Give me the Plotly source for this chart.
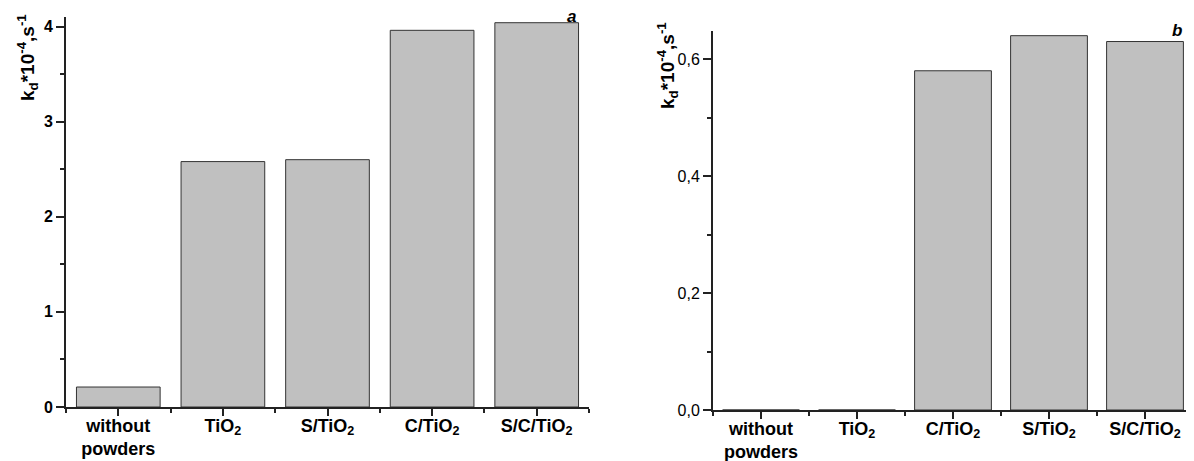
import plotly.graph_objects as go

# ---- data ----
cats_a = ["without<br>powders", "TiO<sub>2</sub>", "S/TiO<sub>2</sub>", "C/TiO<sub>2</sub>", "S/C/TiO<sub>2</sub>"]
vals_a = [0.21, 2.58, 2.60, 3.96, 4.04]

cats_b = ["without<br>powders", "TiO<sub>2</sub>", "C/TiO<sub>2</sub>", "S/TiO<sub>2</sub>", "S/C/TiO<sub>2</sub>"]
vals_b = [0.0, 0.0, 0.58, 0.64, 0.63]

ytick_a = [0, 1, 2, 3, 4]
ytick_b = [0.0, 0.2, 0.4, 0.6]

FONT = "Liberation Sans, Arial, sans-serif"
FILL = "#C0C0C0"
EDGE = "#333333"
AX = "#222222"

# page body has an 8px margin: figure is drawn at (8, 8)
OFF = 8
W, H = 1194 - OFF, 461 - OFF


def px(x):
    return (x - OFF) / W


def py(y):
    return 1 - (y - OFF) / H


fig = go.Figure()
xa = list(range(len(cats_a)))
xb = list(range(len(cats_b)))
fig.add_trace(go.Bar(x=xa, y=vals_a, width=0.8, marker=dict(color=FILL, line=dict(color=EDGE, width=1)),
                     xaxis="x", yaxis="y", showlegend=False))
fig.add_trace(go.Bar(x=xb, y=vals_b, width=0.8, marker=dict(color=FILL, line=dict(color=EDGE, width=1)),
                     xaxis="x2", yaxis="y2", showlegend=False))


def xaxis(dom, cats, anchor):
    return dict(domain=dom, anchor=anchor, range=[-0.5, len(cats) - 0.5], automargin=False,
                tickvals=list(range(len(cats))), ticktext=cats, ticklabelstandoff=-6,
                tickfont=dict(family=FONT, size=18, color="black", weight="bold"),
                showline=True, linecolor=AX, linewidth=2, showgrid=False, zeroline=False,
                ticks="outside", ticklen=7, tickwidth=1.5, tickcolor=AX,
                minor=dict(tick0=-0.5, dtick=1, ticks="outside", ticklen=4, tickwidth=1.5, tickcolor=AX))


def yaxis(dom, rng, tv, anchor, bold, fmt, mdt):
    return dict(domain=dom, anchor=anchor, range=rng, tickvals=tv, tickformat=fmt, automargin=False,
                tickfont=dict(family=FONT, size=16, color="black",
                              weight="bold" if bold else "normal"),
                showline=True, linecolor=AX, linewidth=2, showgrid=False, zeroline=False,
                ticks="outside", ticklen=8, tickwidth=1.5, tickcolor=AX,
                minor=dict(dtick=mdt, ticks="outside", ticklen=4, tickwidth=1.5, tickcolor=AX))


fig.update_layout(
    width=W, height=H,
    margin=dict(l=0, r=0, t=0, b=0, autoexpand=False),
    paper_bgcolor="white", plot_bgcolor="white",
    separators=",.",
    xaxis=xaxis([px(66), px(589)], cats_a, "y"),
    yaxis=yaxis([py(407), py(17)], [0, 4.1], ytick_a, "x", True, "d", 0.5),
    xaxis2=xaxis([px(713), px(1193)], cats_b, "y2"),
    yaxis2=yaxis([py(410), py(31)], [0, 0.648], ytick_b, "x2", False, ".1f", 0.1),
)

title = "<b>k<sub>d</sub>*10<sup>-4</sup>,s<sup>-1</sup></b>"
fig.add_annotation(text=title, xref="paper", yref="paper", x=px(27), y=py(58),
                   textangle=-90, showarrow=False, font=dict(family=FONT, size=19, color="black"),
                   xanchor="center", yanchor="middle")
fig.add_annotation(text=title, xref="paper", yref="paper", x=px(668), y=py(66),
                   textangle=-90, showarrow=False, font=dict(family=FONT, size=19, color="black"),
                   xanchor="center", yanchor="middle")
fig.add_annotation(text="<b><i>a</i></b>", xref="paper", yref="paper", x=px(571), y=py(17),
                   showarrow=False, font=dict(family=FONT, size=17, color="black"),
                   xanchor="center", yanchor="middle", borderpad=0)
fig.add_annotation(text="<b><i>b</i></b>", xref="paper", yref="paper", x=px(1177), y=py(30),
                   showarrow=False, font=dict(family=FONT, size=17, color="black"),
                   xanchor="center", yanchor="middle")

fig.write_html("out.html")
